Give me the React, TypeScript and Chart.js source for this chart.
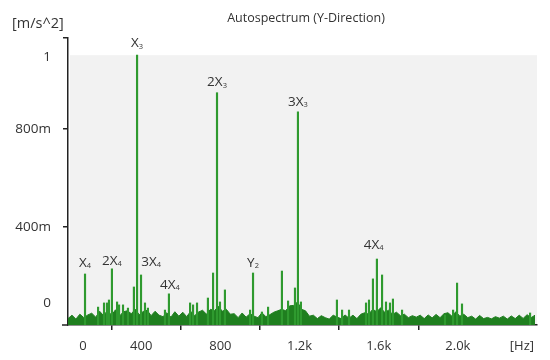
import React, { useEffect, useRef } from "react";
import { Chart, registerables } from "chart.js";

Chart.register(...registerables);

// Noise floor (upper edge of the dense noise band), sampled every 20 Hz from 30 Hz
const FLOOR_START_HZ = 30;
const FLOOR_STEP_HZ = 20;
const floorLevels = [
  0.026, 0.040, 0.024, 0.044, 0.030, 0.041,
  0.048, 0.032, 0.056, 0.038, 0.060, 0.040, 0.062, 0.036, 0.054, 0.058,
  0.046, 0.064, 0.042, 0.055, 0.060, 0.038, 0.056, 0.040,
  0.034, 0.050, 0.032, 0.054, 0.036, 0.052, 0.034, 0.056, 0.038, 0.053, 0.060, 0.044,
  0.064, 0.058, 0.076, 0.056, 0.064, 0.044,
  0.046, 0.030, 0.049, 0.032, 0.046, 0.036, 0.030, 0.050, 0.034, 0.042, 0.052, 0.058,
  0.064, 0.058, 0.078, 0.080, 0.094, 0.064, 0.058,
  0.036, 0.040, 0.026, 0.038, 0.030, 0.024, 0.040, 0.032, 0.026, 0.041, 0.028, 0.040, 0.026, 0.044,
  0.050, 0.044, 0.064, 0.054, 0.070, 0.052, 0.060, 0.044, 0.052, 0.038, 0.044,
  0.030, 0.038, 0.032, 0.040, 0.026, 0.041, 0.029, 0.043, 0.030, 0.046,
  0.050, 0.036, 0.054, 0.036, 0.044, 0.030,
  0.036, 0.024, 0.039, 0.026, 0.031, 0.025, 0.034, 0.028, 0.036, 0.024, 0.037, 0.026, 0.040, 0.027, 0.042, 0.030, 0.040,
];

// Discrete spectral lines
const peakHz = [
  116, 182, 212, 227, 237, 252, 278, 288, 308, 333, 363, 379, 399, 419, 434,
  520, 540, 647, 662, 682, 737, 763, 783, 798, 823, 950, 965, 1010, 1041,
  1111, 1142, 1177, 1192, 1207, 1389, 1415, 1450, 1536, 1551, 1571, 1591,
  1617, 1637, 1657, 1672, 1718, 1935, 1976, 1996, 2021, 2365,
];
const peakLevels = [
  0.208, 0.073, 0.090, 0.090, 0.102, 0.229, 0.094, 0.082, 0.082, 0.069, 0.155, 1.100, 0.204, 0.090, 0.069,
  0.061, 0.127, 0.090, 0.082, 0.090, 0.110, 0.212, 0.947, 0.094, 0.143, 0.061, 0.212, 0.053, 0.073,
  0.220, 0.098, 0.151, 0.869, 0.094, 0.102, 0.061, 0.061, 0.090, 0.102, 0.188, 0.269,
  0.204, 0.094, 0.090, 0.106, 0.061, 0.041, 0.061, 0.171, 0.086, 0.049,
];

// Axis ticks
const xTickHz = [105, 400, 800, 1200, 1600, 2000, 2324];
const xTickLabels = ["0", "400", "800", "1.2k", "1.6k", "2.0k", "[Hz]"];
const yTickValues = [0.09, 0.4, 0.8, 1.09, 1.17];
const yTickLabels = ["0", "400m", "800m", "1", ""];
const yTickMarked = [0.4, 0.8, 1.17];

// Peak annotations
const annotationMain = ["X", "2X", "3X", "X", "2X", "3X", "4X", "Y", "4X"];
const annotationSub = ["3", "3", "3", "4", "4", "4", "4", "2", "4"];
const annotationHz = [379, 783, 1192, 116, 252, 450, 545, 965, 1575];
const annotationLevels = [1.147, 0.988, 0.910, 0.253, 0.261, 0.257, 0.163, 0.253, 0.327];

const TITLE = "Autospectrum (Y-Direction)";
const Y_UNIT = "[m/s^2]";

const FONT = "'Open Sans', 'DejaVu Sans', sans-serif";
const TEXT = "#333333";
const AXIS = "#222222";
const GREEN_BAND = "#1f7f1f";
const GREEN_LINE = "#2f9a2f";

export default function App() {
  const ref = useRef<HTMLCanvasElement | null>(null);

  useEffect(() => {
    const canvas = ref.current;
    if (!canvas) return;

    const floorData = floorLevels.map((v, i) => ({ x: FLOOR_START_HZ + i * FLOOR_STEP_HZ, y: v }));
    const peakData = peakHz.map((f, i) => ({ x: f, y: peakLevels[i] }));

    const decor = {
      id: "decor",
      beforeDraw(chart: any) {
        const { ctx, chartArea } = chart;
        const y = chart.scales.y;
        ctx.save();
        ctx.fillStyle = "#f2f2f2";
        const top = y.getPixelForValue(1.1);
        ctx.fillRect(chartArea.left + 2, top, chartArea.right - chartArea.left - 2, chartArea.bottom - top);
        ctx.restore();
      },
      afterDraw(chart: any) {
        const { ctx, chartArea } = chart;
        const xs = chart.scales.x;
        const ys = chart.scales.y;
        ctx.save();
        ctx.strokeStyle = AXIS;
        ctx.lineWidth = 1.5;
        ctx.beginPath();
        ctx.moveTo(chartArea.left - 6, chartArea.bottom);
        ctx.lineTo(chartArea.left, chartArea.bottom);
        ctx.stroke();

        ctx.fillStyle = TEXT;
        ctx.textBaseline = "middle";
        ctx.font = `12.5px ${FONT}`;
        ctx.textAlign = "center";
        ctx.fillText(TITLE, 306, 18);
        ctx.font = `14.5px ${FONT}`;
        ctx.textAlign = "left";
        ctx.fillText(Y_UNIT, 12, 24);

        annotationMain.forEach((m, i) => {
          const px = xs.getPixelForValue(annotationHz[i]);
          const py = ys.getPixelForValue(annotationLevels[i]);
          ctx.font = `13.5px ${FONT}`;
          const wm = ctx.measureText(m).width;
          ctx.font = `7.5px ${FONT}`;
          const wsub = ctx.measureText(annotationSub[i]).width;
          const x0 = px - (wm + wsub) / 2;
          ctx.textAlign = "left";
          ctx.font = `13.5px ${FONT}`;
          ctx.fillText(m, x0, py);
          ctx.font = `7.5px ${FONT}`;
          ctx.fillText(annotationSub[i], x0 + wm, py + 3);
        });
        ctx.restore();
      },
    };

    const chart = new Chart(canvas, {
      type: "bar",
      data: {
        datasets: [
          {
            type: "bar",
            data: peakData as any,
            backgroundColor: GREEN_LINE,
            borderWidth: 0,
            barThickness: 1.5,
            grouped: false,
            order: 0,
          } as any,
          {
            type: "line",
            data: floorData as any,
            borderColor: GREEN_BAND,
            backgroundColor: GREEN_BAND,
            borderWidth: 1,
            pointRadius: 0,
            fill: "origin",
            tension: 0,
            order: 1,
          } as any,
        ],
      },
      options: {
        responsive: false,
        animation: false,
        layout: { padding: { top: 38, right: 13, left: 0, bottom: 0 } },
        plugins: { legend: { display: false }, tooltip: { enabled: false }, title: { display: false } },
        scales: {
          x: {
            type: "linear",
            min: 30,
            max: 2400,
            offset: false,
            afterBuildTicks: (s: any) => {
              s.ticks = xTickHz.map((v) => ({ value: v }));
            },
            afterFit: (s: any) => {
              s.height = 35;
            },
            ticks: {
              autoSkip: false,
              maxRotation: 0,
              padding: 8,
              color: TEXT,
              font: { family: FONT, size: 13 },
              callback: (v: any) => xTickLabels[xTickHz.indexOf(Number(v))] ?? "",
            },
            grid: {
              drawOnChartArea: false,
              tickLength: 5,
              lineWidth: 1.5,
              color: (c: any) => (c.tick && c.tick.value === 2324 ? "rgba(0,0,0,0)" : AXIS),
            },
            border: { color: AXIS, width: 1.5 },
          },
          y: {
            type: "linear",
            min: 0,
            max: 1.17,
            afterBuildTicks: (s: any) => {
              s.ticks = yTickValues.map((v) => ({ value: v }));
            },
            afterFit: (s: any) => {
              s.width = 68;
            },
            ticks: {
              autoSkip: false,
              padding: 12,
              color: TEXT,
              font: { family: FONT, size: 13.5 },
              callback: (v: any) => yTickLabels[yTickValues.indexOf(Number(v))] ?? "",
            },
            grid: {
              drawOnChartArea: false,
              tickLength: 5,
              lineWidth: 1.5,
              color: (c: any) => (c.tick && yTickMarked.includes(c.tick.value) ? AXIS : "rgba(0,0,0,0)"),
            },
            border: { color: AXIS, width: 1.5 },
          },
        },
      },
      plugins: [decor],
    } as any);

    return () => chart.destroy();
  }, []);

  return (
    <div style={{ position: "fixed", left: 0, top: 0, width: 550, height: 360, background: "#fff" }}>
      <canvas ref={ref} width={550} height={360} style={{ display: "block" }} />
    </div>
  );
}
